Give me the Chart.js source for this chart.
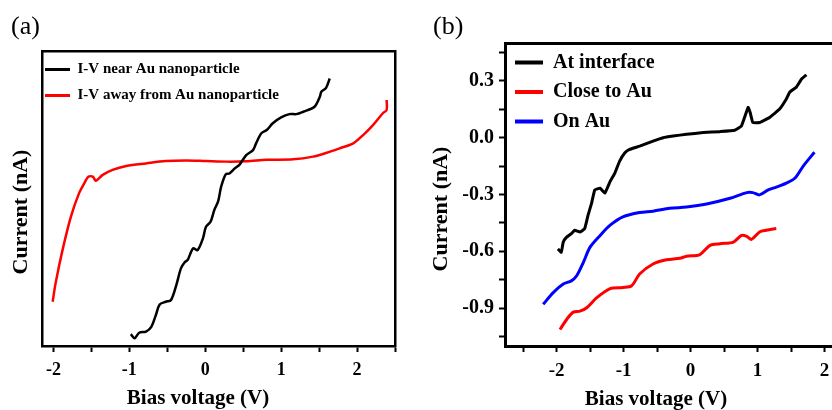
<!DOCTYPE html>
<html>
<head>
<meta charset="utf-8">
<script src="https://cdn.jsdelivr.net/npm/chart.js@4.4.0/dist/chart.umd.min.js"></script>
<style>
    html, body { margin: 0; padding: 0; overflow: hidden; background: #fff; }
    body { position: relative; width: 832px; height: 410px; font-family: "Liberation Serif", "Times New Roman", serif; color: #000; }
    canvas { position: absolute; top: 0; }
    #chartA { left: 0; }
    #chartB { left: 420px; }
    .txt { position: absolute; white-space: nowrap; line-height: 1; }
    .panel { font-size: 26px; top: 13px; }
    .xtitle { font-size: 21px; font-weight: bold; transform: translate(-50%, -50%); }
    .ytitle { font-size: 22px; font-weight: bold; transform: translate(-50%, -50%) rotate(-90deg); }
</style>
</head>
<body>
<canvas id="chartA" width="420" height="410"></canvas>
<canvas id="chartB" width="460" height="410"></canvas>

<div class="txt panel" style="left:11px">(a)</div>
<div class="txt panel" style="left:433px">(b)</div>
<div class="txt xtitle" style="left:198px; top:397px">Bias voltage (V)</div>
<div class="txt xtitle" style="left:656px; top:398px">Bias voltage (V)</div>
<div class="txt ytitle" style="left:20px; top:212px">Current (nA)</div>
<div class="txt ytitle" style="left:440px; top:209px">Current (nA)</div>

<script>
// panel (a): y axis has no scale in the figure, values are arbitrary units
const nearBias = [-0.98, -0.93, -0.87, -0.78, -0.71, -0.65, -0.60, -0.52, -0.45, -0.38, -0.32, -0.27, -0.23, -0.16, -0.10, -0.03, 0.01, 0.07, 0.12, 0.17, 0.21, 0.27, 0.32, 0.39, 0.45, 0.54, 0.63, 0.67, 0.74, 0.81, 0.89, 1.00, 1.11, 1.20, 1.29, 1.44, 1.51, 1.53, 1.59, 1.64];
const nearCurrent = [4.0, 2.6, 4.5, 4.9, 6.5, 10.5, 14.1, 15.0, 15.6, 20.7, 26.3, 28.4, 29.2, 33.1, 32.5, 36.5, 40.4, 42.1, 46.1, 49.0, 54.0, 58.2, 58.5, 60.2, 61.4, 64.7, 66.4, 68.7, 72.1, 73.2, 75.5, 77.5, 78.6, 78.6, 79.4, 81.1, 84.5, 86.2, 87.4, 90.7];
const awayBias = [-2.01, -1.97, -1.88, -1.77, -1.66, -1.59, -1.54, -1.48, -1.44, -1.35, -1.22, -1.04, -0.78, -0.52, -0.25, 0.01, 0.28, 0.54, 0.81, 1.16, 1.42, 1.60, 1.77, 1.95, 2.08, 2.21, 2.34, 2.39, 2.39];
const awayCurrent = [15.0, 21.4, 32.5, 43.8, 51.9, 55.3, 57.4, 57.4, 56.0, 58.0, 59.7, 61.0, 61.9, 62.7, 62.9, 62.7, 62.5, 62.6, 63.1, 63.3, 64.2, 65.5, 67.0, 68.7, 71.5, 74.9, 78.9, 80.0, 83.4];

// panel (b), current in nA
const interfaceBias = [-1.98, -1.93, -1.90, -1.85, -1.78, -1.73, -1.65, -1.58, -1.53, -1.48, -1.43, -1.35, -1.28, -1.20, -1.13, -1.06, -0.98, -0.91, -0.76, -0.56, -0.41, -0.26, -0.06, 0.19, 0.44, 0.66, 0.76, 0.86, 0.89, 0.93, 1.03, 1.18, 1.33, 1.43, 1.48, 1.58, 1.66, 1.73];
const interfaceCurrent = [-0.587, -0.605, -0.551, -0.525, -0.507, -0.489, -0.498, -0.480, -0.409, -0.350, -0.276, -0.267, -0.293, -0.231, -0.187, -0.125, -0.080, -0.062, -0.045, -0.018, 0.000, 0.009, 0.018, 0.027, 0.032, 0.039, 0.062, 0.160, 0.133, 0.080, 0.080, 0.107, 0.151, 0.204, 0.240, 0.267, 0.311, 0.332];
const closeBias = [-1.95, -1.85, -1.75, -1.65, -1.55, -1.40, -1.20, -1.01, -0.88, -0.76, -0.56, -0.36, -0.16, -0.06, 0.14, 0.29, 0.44, 0.64, 0.76, 0.84, 0.91, 1.03, 1.13, 1.28];
const closeCurrent = [-1.013, -0.960, -0.921, -0.916, -0.898, -0.845, -0.797, -0.791, -0.782, -0.720, -0.667, -0.645, -0.637, -0.626, -0.617, -0.569, -0.560, -0.551, -0.516, -0.521, -0.537, -0.498, -0.489, -0.480];
const onAuBias = [-2.20, -2.05, -1.90, -1.78, -1.70, -1.60, -1.50, -1.35, -1.20, -1.01, -0.76, -0.56, -0.31, -0.06, 0.24, 0.59, 0.84, 0.93, 1.03, 1.16, 1.28, 1.43, 1.56, 1.68, 1.85];
const onAuCurrent = [-0.880, -0.818, -0.773, -0.756, -0.729, -0.658, -0.578, -0.516, -0.462, -0.418, -0.395, -0.388, -0.373, -0.366, -0.350, -0.320, -0.290, -0.290, -0.302, -0.276, -0.261, -0.240, -0.213, -0.151, -0.077];

const serif = "'Liberation Serif', 'Times New Roman', serif";

function points(xs, ys) {
    return xs.map((x, i) => ({ x: x, y: ys[i] }));
}

function setWidth(w) {
    return function (scale) { scale.width = w; };
}
function setHeight(h) {
    return function (scale) { scale.height = h; };
}

// keep the legend inside the plot box (chartArea legends get top = 0), with a small sideways nudge
const legendInside = {
    id: 'legendInside',
    afterLayout(chart, args, opts) {
        const legend = chart.legend;
        if (!legend) return;
        const area = chart.chartArea;
        legend.top = area.top;
        legend.bottom = area.bottom;
        legend.left = area.left + (opts.dx || 0);
    }
};

function frame(width) {
    return { color: '#000', width: width };
}

function bottomAxis(min, max, fontSize, border) {
    return {
        type: 'linear', min: min, max: max,
        afterFit: setHeight(64),
        ticks: {
            stepSize: 0.5, includeBounds: false, autoSkip: false, maxRotation: 0,
            padding: 8, color: '#000',
            font: { family: serif, size: fontSize, weight: 'bold' },
            callback: v => Number.isInteger(v) ? String(v) : ''
        },
        grid: { drawOnChartArea: false, tickLength: 6, tickWidth: 2, tickColor: '#000' },
        border: frame(border)
    };
}

function plainAxis(pos, border) {
    const horizontal = pos === 'top';
    return {
        type: 'linear', position: pos, display: true,
        afterFit: horizontal ? setHeight(0) : setWidth(0),
        ticks: { display: false },
        grid: { display: false },
        border: frame(border)
    };
}

function legendOpts(size, padding, sample, thickness) {
    return {
        position: 'chartArea', align: 'start',
        labels: {
            usePointStyle: true, pointStyle: 'line', pointStyleWidth: sample,
            color: '#000', padding: padding,
            font: { family: serif, size: size, weight: 'bold' },
            generateLabels: function (chart) {
                const items = Chart.defaults.plugins.legend.labels.generateLabels(chart);
                items.forEach(item => { item.lineWidth = thickness; });
                return items;
            }
        }
    };
}

new Chart(document.getElementById('chartA'), {
    type: 'line',
    data: {
        datasets: [{
            label: 'I-V near Au nanoparticle',
            data: points(nearBias, nearCurrent),
            borderColor: '#000', borderWidth: 2.5
        }, {
            label: 'I-V away from Au nanoparticle',
            data: points(awayBias, awayCurrent),
            borderColor: '#ff0000', borderWidth: 2.5
        }]
    },
    options: {
        responsive: false,
        animation: false,
        layout: { padding: { top: 51, right: 25, left: 0, bottom: 0 } },
        elements: { point: { radius: 0 }, line: { tension: 0.3, fill: false } },
        scales: {
            x: bottomAxis(-2.15, 2.5, 18, 2.5),
            y: {
                type: 'linear', min: 0, max: 100,
                afterFit: setWidth(42),
                ticks: { display: false },
                grid: { display: false },
                border: frame(2.5)
            },
            x2: plainAxis('top', 2.5),
            y2: plainAxis('right', 2.5)
        },
        plugins: {
            legend: legendOpts(15, 11, 25, 3),
            legendInside: { dx: -8 },
            tooltip: { enabled: false }
        }
    },
    plugins: [legendInside]
});

// the right edge of panel (b) runs off the page, as in the figure
new Chart(document.getElementById('chartB'), {
    type: 'line',
    data: {
        datasets: [{
            label: 'At interface',
            data: points(interfaceBias, interfaceCurrent),
            borderColor: '#000', borderWidth: 3, tension: 0.1
        }, {
            label: 'Close to Au',
            data: points(closeBias, closeCurrent),
            borderColor: '#ff0000', borderWidth: 3
        }, {
            label: 'On Au',
            data: points(onAuBias, onAuCurrent),
            borderColor: '#0000ff', borderWidth: 3
        }]
    },
    options: {
        responsive: false,
        animation: false,
        layout: { padding: { top: 43, right: 22, left: 0, bottom: 0 } },
        elements: { point: { radius: 0 }, line: { tension: 0.3, fill: false } },
        scales: {
            x: bottomAxis(-2.77, 2.5, 19, 3),
            y: {
                type: 'linear', min: -1.1, max: 0.5,
                afterFit: setWidth(85),
                ticks: {
                    stepSize: 0.15, includeBounds: false, autoSkip: false,
                    padding: 5, color: '#000',
                    font: { family: serif, size: 20, weight: 'bold' },
                    callback: function (v) {
                        const k = v / 0.3;
                        if (Math.abs(k - Math.round(k)) > 1e-6) return '';
                        return Math.abs(v) < 1e-9 ? '0.0' : v.toFixed(1);
                    }
                },
                grid: { drawOnChartArea: false, tickLength: 6, tickWidth: 2, tickColor: '#000' },
                border: frame(3)
            },
            x2: plainAxis('top', 3)
        },
        plugins: {
            legend: legendOpts(20, 9.5, 28, 4),
            legendInside: { dx: 0.5 },
            tooltip: { enabled: false }
        }
    },
    plugins: [legendInside]
});
</script>
</body>
</html>
